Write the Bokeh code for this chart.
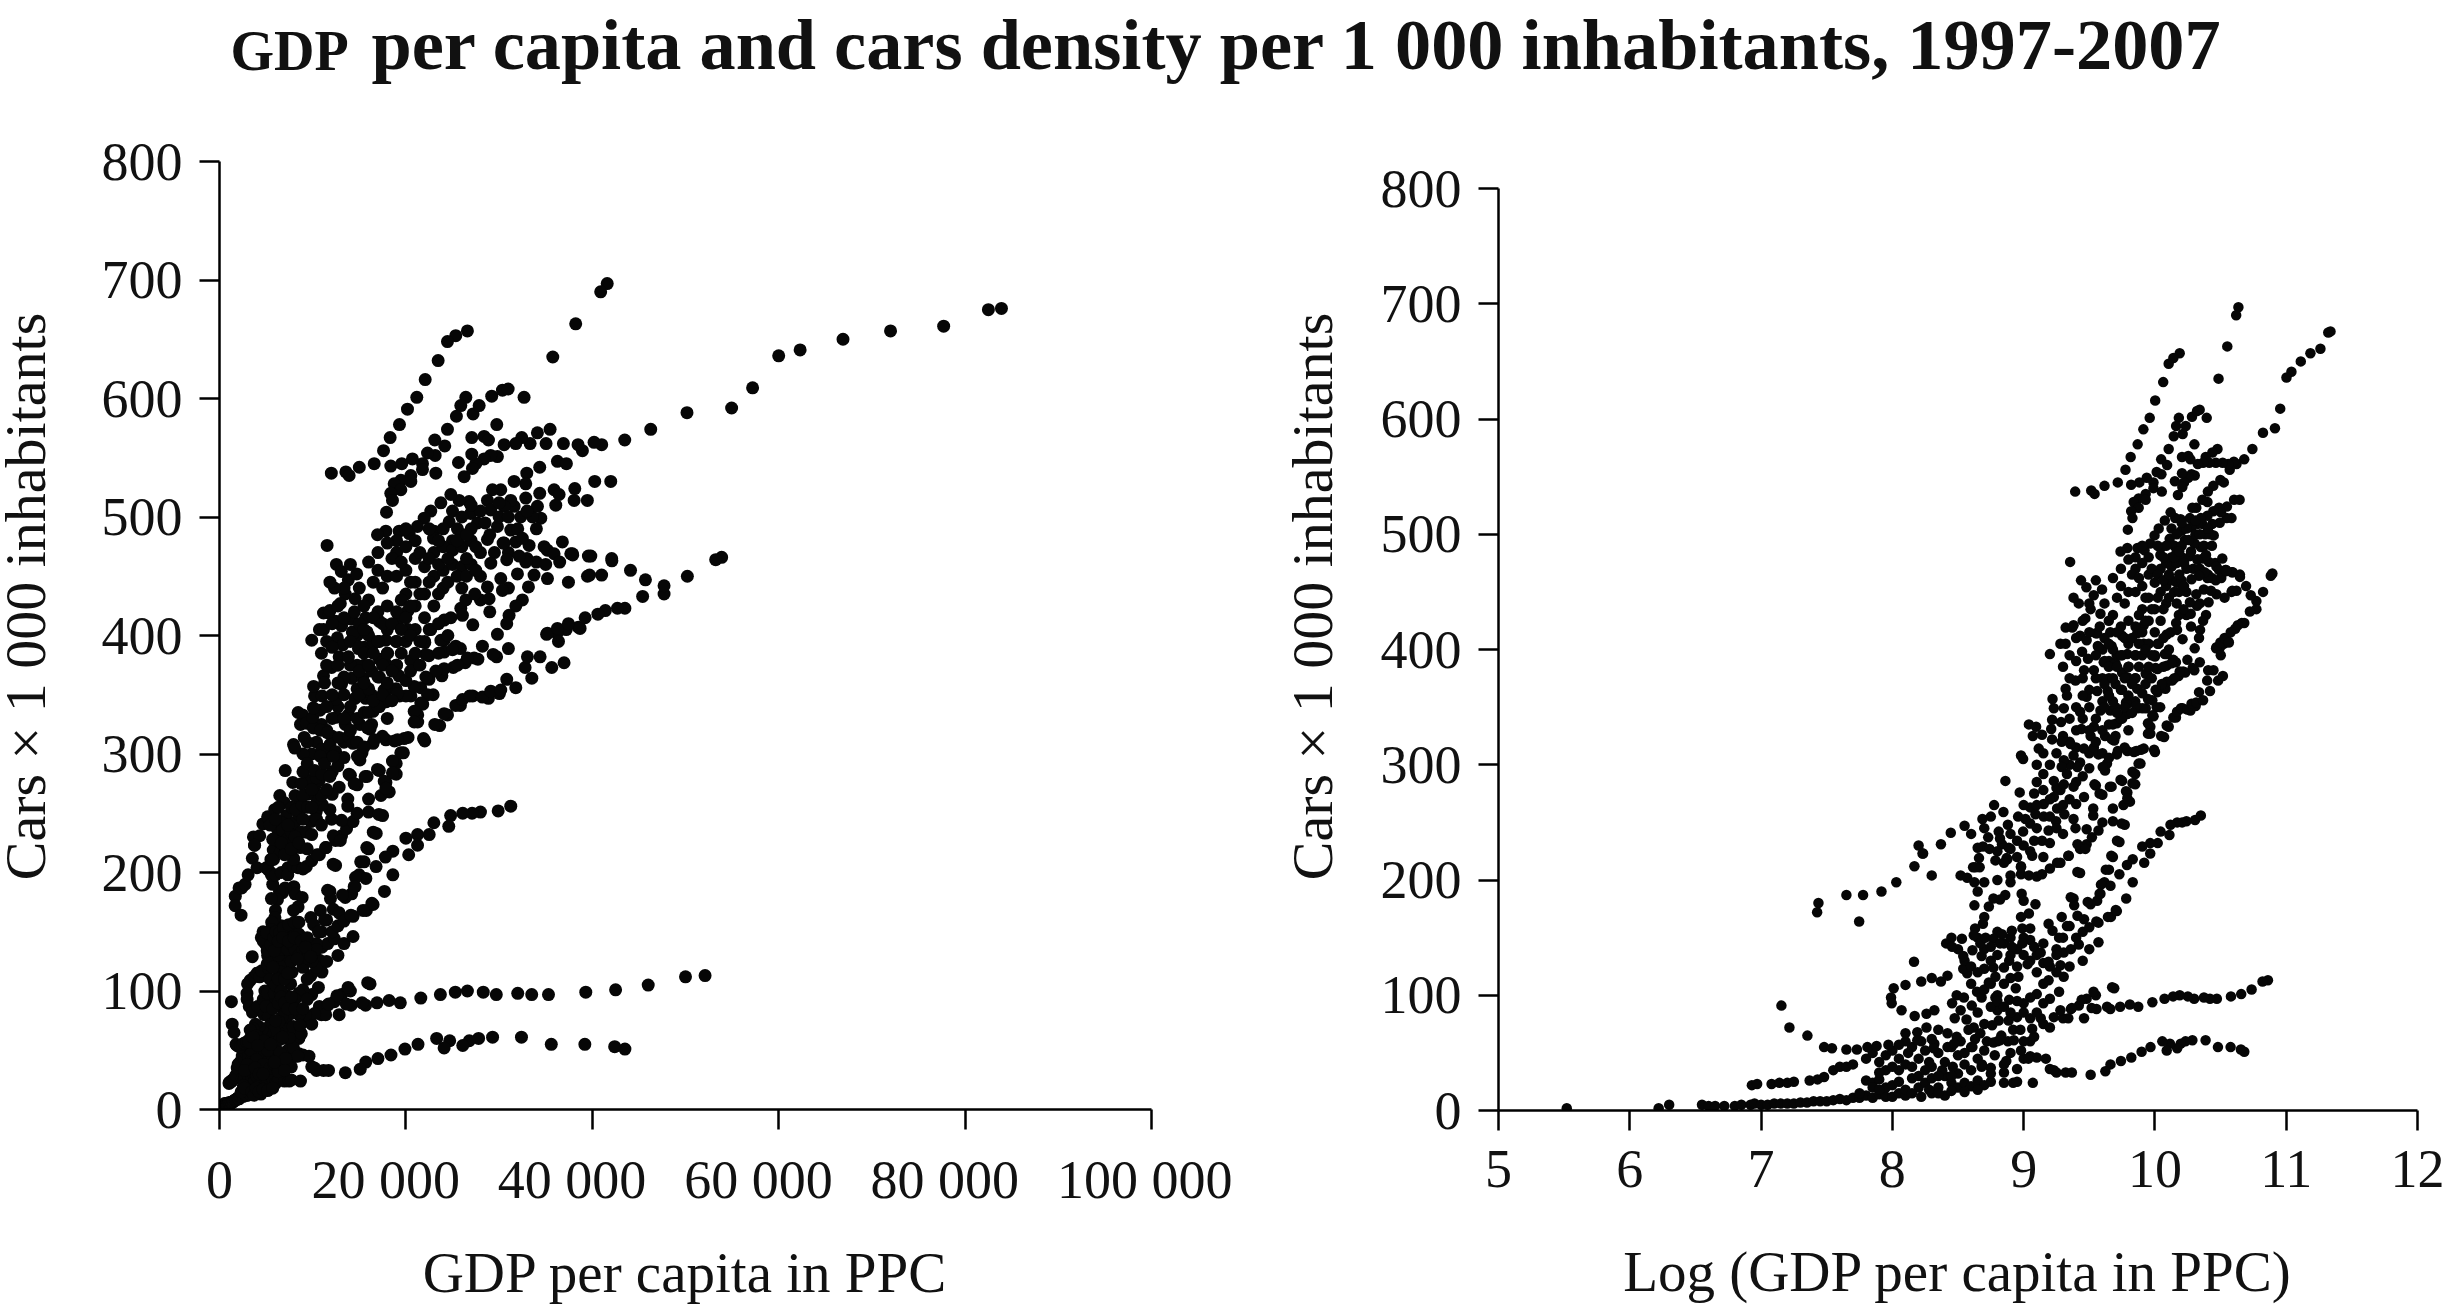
import numpy as np
from bokeh.embed import file_html
from bokeh.resources import INLINE
from bokeh.models import FixedTicker, Label, Range1d
from bokeh.plotting import figure

TITLE_SMALL = "GDP"
TITLE_MAIN = "per capita and cars density per 1 000 inhabitants, 1997-2007"
YLABEL = "Cars × 1 000 inhabitants"
XLABEL_LEFT = "GDP per capita in PPC"
XLABEL_RIGHT = "Log (GDP per capita in PPC)"
Y_TICKS = [0, 100, 200, 300, 400, 500, 600, 700, 800]
X_TICKS_LEFT = [0, 20000, 40000, 60000, 80000, 100000]
# The reference sets these labels slightly left of their ticks; trailing no-break spaces reproduce that.
X_TICK_LABELS_LEFT = ["0", "20 000\u00a0\u00a0\u00a0", "40 000\u00a0\u00a0\u00a0", "60 000\u00a0\u00a0\u00a0",
                      "80 000\u00a0\u00a0\u00a0", "100 000\u00a0"]
X_TICKS_RIGHT = [5, 6, 7, 8, 9, 10, 11, 12]

# --- (log GDP, cars) ---
log_floor = [(5.52,2),(6.22,2),(6.30,5),(6.55,5),(6.60,4),(6.65,4),(6.72,4),(6.80,4),(6.85,5),(6.92,5),(6.95,6),(7.00,5),
 (7.05,5),(7.10,6),(7.15,6),(7.20,6),(7.25,6),(7.30,7),(7.35,7),(7.40,8),(7.45,8),(7.50,8),(7.55,9),(7.60,10),(7.65,9),
 (7.70,11),(7.75,11),(7.80,13),(7.85,11),(7.90,14),(7.95,12),(8.00,12),(8.05,15),(8.10,13)]
log_band_25 = [(6.93,22),(6.97,23),(7.08,23),(7.14,24),(7.20,24),(7.25,25),(7.37,26),(7.43,27),(7.48,29),(7.55,35),(7.60,38),
 (7.65,38),(7.70,40),(7.80,26),(7.85,24),(7.90,27),(7.95,20),(8.00,22),(8.05,25),(8.10,18),(8.15,28),(8.20,20),(8.20,30),
 (8.25,24),(8.30,15),(8.30,28),(8.35,20),(8.40,13),(8.40,30),(8.45,24),(8.50,20),(8.50,32),(8.55,24),(8.60,21),(8.65,26),
 (8.70,22),(8.75,25),(8.85,24),(8.92,24),(8.95,25),(9.07,24),(7.75,15),(7.85,20),(7.90,18)]
log_band_50 = [(7.80,45),(7.85,50),(7.90,42),(7.95,48),(8.00,52),(8.05,45),(8.10,40),(8.15,55),(8.20,45),(8.25,52),(8.30,38),
 (8.35,50),(8.40,42),(8.45,55),(8.50,48),(8.55,40),(8.60,55),(8.65,45),(8.70,52),(8.75,37),(8.80,60),(8.85,40),(8.90,50),
 (8.95,36),(9.00,45),(9.05,47),(9.10,46),(9.20,36),(9.25,33),(9.32,33),(9.05,60),(9.00,60),(9.15,75),(9.20,72),(9.30,80)]
log_fill_low = [(8.05,35),(8.12,50),(8.15,38),(8.22,60),(8.28,42),(8.32,58),(8.38,35),(8.42,55),(8.46,38),(8.52,60),(8.55,50),
 (8.60,35),(8.63,62),(8.68,38),(8.72,60),(8.78,48),(8.83,65),(8.88,60),(8.92,70),(8.98,52),(8.15,15),(8.22,12),(8.28,18),
 (8.35,15),(8.45,17),(8.55,16),(8.65,18),(8.75,32),(8.85,33),(8.10,60),(7.95,35),(8.00,38),(7.90,33),(8.25,35),(8.35,30),(8.45,30)]
log_band_100 = [(7.155,91),(7.216,72),(7.353,65),(7.48,55),(7.54,54),(7.65,53),(7.73,53),(7.81,55),(7.88,56),(7.97,57),(8.05,57),
 (8.165,129),(8.10,109),(8.01,106),(8.22,112),(8.30,115),(8.37,112),(8.42,117),(7.99,98),(7.995,93),(8.07,87),(8.17,82),
 (8.26,84),(8.32,87),(8.475,80),(8.565,79),(8.645,103),(8.605,91),(8.49,100),(8.455,93),(8.545,98),(8.52,87),(8.68,98),
 (8.57,119),(8.54,123),(8.70,123),(8.77,124),(8.85,124),(8.89,130),(8.96,116),(8.94,106),(8.89,96),(8.785,116),(8.735,111),
 (8.785,98),(8.80,87),(9.305,137),(9.36,140),(9.42,144),(9.50,140),(9.57,146),(9.28,126),(9.305,116),(9.19,113),(9.27,103),
 (9.20,97),(9.10,101),(9.05,98),(9.00,93),(9.15,93),(9.28,87),(9.36,88),(9.42,91),(9.48,97),(9.55,100),(9.69,106),(9.555,88),
 (9.66,88),(9.46,80),(9.34,80),(9.23,81),(9.13,80),(9.05,80),(8.95,81),(8.885,78),(8.81,78),(8.76,74),(8.925,61),(8.975,70),
 (9.08,64),(9.065,71),(8.62,72),(8.58,70),(8.67,67),(8.49,64),(8.42,67),(8.35,70),(8.26,72),(8.19,68),(8.10,67),(8.30,62),
 (8.47,58),(8.19,61),(8.315,54),(8.77,59),(8.82,61),(8.61,55)]
log_fill_130 = [(8.45,150),(8.50,140),(8.55,130),(8.60,125),(8.65,150),(8.70,140),(8.75,130),(8.80,135),(8.80,155),(8.85,145),
 (8.90,135),(8.90,150),(8.95,125),(8.95,140),(9.00,135),(9.00,150),(9.05,130),(9.05,148),(9.10,120),(9.10,135),(8.60,110),
 (8.65,120),(8.70,105),(8.75,110),(8.80,100),(8.85,110),(8.90,115),(8.65,85),(8.70,75),(8.75,90),(8.80,95),(8.85,90),(8.90,85),
 (8.95,95),(9.00,85),(9.10,85),(9.15,110),(9.25,120),(9.30,150),(9.35,160),(9.40,150),(9.45,155),(9.25,140),(9.35,125),
 (9.20,125),(9.25,135),(9.15,128),(9.45,130)]
log_band_150 = [(7.437,180),(7.427,172),(7.65,187),(7.777,187),(7.747,164),(7.917,190),(8.03,198),(8.41,145),(8.455,142),
 (8.985,188),(9.0,182),(9.09,179),(9.04,171),(8.98,168),(9.615,198),(9.585,188),(9.56,182),(9.51,179),(9.38,184),(9.385,178),
 (9.29,168),(9.33,160),(9.41,169),(9.46,166),(9.50,159),(9.57,163),(9.665,168),(9.71,173),(8.86,187),(8.82,183),(8.77,184),
 (8.735,177),(8.70,168),(8.69,162),(8.63,158),(8.62,152),(8.53,149),(8.54,134),(8.61,139),(8.67,145),(8.71,150),(8.77,149),
 (8.835,153),(8.91,156),(8.99,158),(9.05,158),(8.68,134),(8.75,142),(8.82,145),(8.91,142),(8.99,145),(9.08,142),(9.15,145),
 (9.19,162),(9.22,156),(9.27,150),(9.13,137),(9.03,127),(9.19,129),(8.65,190),(8.625,178)]
log_band_220 = [(8.168,212),(8.30,204),(8.23,223),(8.20,230),(8.37,231),(8.52,204),(8.57,202),(8.625,198),(8.70,198),(8.80,200),
 (8.615,211),(8.665,211),(8.66,219),(8.69,229),(8.74,227),(8.785,217),(8.876,218),(8.90,227),(8.835,231),(8.98,212),(8.90,204),
 (8.90,198),(8.98,205),(9.04,204),(9.10,203),(9.14,205),(9.20,210),(9.28,215),(9.34,221),(9.43,227),(9.48,231),(9.43,206),
 (9.65,209),(9.68,220),(8.234,223),(8.445,241),(8.55,247),(8.686,253),(8.775,265),(8.846,259),(8.861,286),(8.97,276),(8.88,248),
 (8.81,242),(8.73,237),(8.82,236),(8.887,228),(8.95,234),(8.996,242),(9.05,249),(8.958,255),(9.014,253),(9.05,263),(9.09,257),
 (9.153,255),(9.19,243),(9.14,234),(9.08,234),(9.065,221),(8.87,219),(8.633,211),(8.98,211),(9.255,215),(9.344,221),(9.41,231),
 (9.47,227),(9.52,237),(9.57,243),(9.48,244),(9.395,245),(9.38,253),(9.247,251),(9.31,257),(9.255,262),(9.153,266),(9.23,272),
 (9.28,278),(9.15,278),(9.08,275),(9.46,272),(9.40,266),(9.53,262),(9.53,256),(9.60,250),(9.68,251),(9.77,248),(9.73,233),(9.68,262)]
log_fill_240 = [(8.60,240),(8.65,228),(8.70,245),(8.75,255),(8.80,225),(8.85,215),(8.90,240),(8.95,220),(9.00,230),(9.00,265),
 (9.05,225),(9.10,245),(9.10,265),(9.15,220),(9.20,232),(9.20,255),(9.25,245),(9.25,280),(9.30,265),(9.30,240),(9.35,270),
 (9.35,300),(9.40,285),(9.45,290),(9.50,310),(9.20,300),(9.25,310),(9.30,325),(9.15,310),(9.10,300),(9.10,285),(9.20,270),
 (9.35,320),(9.40,315),(9.45,340)]
log_band_300 = [(9.15,292),(9.23,286),(9.306,283),(9.38,281),(9.76,265),(9.81,268),(9.79,276),(9.60,274),(9.55,282),(9.67,281),
 (9.75,286),(9.85,283),(9.85,292),(9.89,301),(9.62,295),(9.635,301),(9.71,309),(9.79,312),(9.915,314),(10.0,311),(9.84,311),
 (9.306,304),(9.29,298),(9.38,308),(9.43,302),(9.33,292),(9.50,297),(9.41,298),(9.115,314),(8.98,308),(8.996,305),(9.04,335),
 (9.095,333),(9.07,325),(9.14,326),(9.217,322),(9.29,320),(9.357,318),(9.21,331),(9.285,337),(9.217,339),(9.23,349),(9.306,349),
 (9.22,357),(9.32,366),(9.33,360),(9.395,373),(9.46,382),(9.43,346),(9.48,359),(9.56,364),(9.44,331),(9.535,333),(9.51,325),
 (9.46,314),(9.535,315),(9.57,309),(9.62,325),(9.69,321),(9.71,336),(9.585,347),(9.66,347),(9.64,364),(9.79,353),(9.79,344),
 (9.87,349),(9.93,349),(9.98,356),(10.04,350),(9.99,342),(9.965,333),(9.965,327)]
log_fill_350 = [(9.50,350),(9.55,340),(9.60,330),(9.65,335),(9.60,355),(9.65,360),(9.70,350),(9.75,340),(9.75,365),(9.70,370),
 (9.75,380),(9.65,375),(9.60,375),(9.55,375),(9.50,365),(9.80,385),(9.85,375),(9.85,395),(9.75,395),(9.60,400),(9.65,390),
 (9.85,355),(9.60,310),(9.70,325),(9.45,360),(9.40,350),(9.35,340),(9.40,330),(9.50,330),(9.55,320)]
log_band_390 = [(10.07,324),(10.105,333),(10.16,341),(10.21,349),(10.27,347),(10.31,351),(10.02,363),(10.08,366),(10.13,373),
 (10.18,377),(10.23,380),(10.30,382),(9.94,379),(10.02,383),(10.09,386),(10.16,389),(9.865,366),(9.79,376),(9.70,388),(9.61,389),
 (9.535,382),(9.79,396),(9.71,395),(10.0,394),(10.09,396),(9.445,398),(9.49,392),(9.565,403),(9.67,403),(9.43,412),(9.48,408),
 (9.55,414),(9.20,396),(9.28,405),(9.32,405),(9.32,419),(9.37,419),(9.66,415),(9.75,412),(9.865,414),(9.915,405),(9.915,421),
 (9.354,476),(9.437,460),(9.478,454),(9.38,421),(9.51,435),(9.47,427),(9.534,447),(9.597,452),(9.585,431),(9.56,414),(9.57,402)]
log_fill_420 = [(9.30,385),(9.35,395),(9.40,410),(9.45,425),(9.50,440),(9.55,460),(9.35,375),(9.40,390),(9.45,375),(9.50,415),
 (9.55,395),(9.58,420),(9.42,440),(9.38,445)]

# --- (GDP, cars) ---
gdp_top = [(26600,657),(25350,653),(24460,648),(23460,632),(22070,616),(21170,601),(20170,591),(19310,578),(18310,567),
 (17600,556),(16600,545),(15000,542),(13560,538),(13910,535),(12000,537),(41600,697),(40900,690),(38220,663),(35760,635)]
gdp_far = [(83900,676),(82500,675),(77700,661),(72000,657),(66900,650),(62300,641),(60000,636),(57200,609),(54950,592),
 (50160,588),(46270,574),(43480,565),(41010,561),(40190,563),(38940,556),(38470,561),(36900,562),(35040,562),(35470,574),
 (34110,571),(33330,562),(32430,567),(31790,562),(30540,561),(29820,551),(29100,552),(28390,549),(27500,545),(27140,541),
 (26250,534),(27070,553),(25640,546),(29750,578),(27070,567),(28390,568),(28860,565)]
gdp_600 = [(26430,601),(25890,594),(27210,587),(27860,594),(25420,585),(24460,574),(29210,602),(30360,607),(30970,608),(32680,601),
 (23100,565),(24170,560),(23210,537),(23140,552),(22320,554),(21780,545),(20700,549),(19560,545),(18380,543),(21780,540),
 (20530,535),(19460,531),(20530,530),(18740,528),(19460,523),(18380,520),(18560,514),(17920,504)]
gdp_520 = [(34360,542),(32970,537),(32860,528),(31610,530),(36260,547),(37220,545),(40260,530),(41980,530),(38120,524),(39470,514),
 (38050,514),(35900,523),(36440,519),(36080,510),(34360,520),(34470,499),(33580,500),(34110,509),(32860,516),(31610,509),
 (31250,514),(30540,509),(30180,523),(29290,523),(28750,514),(29110,506),(26780,513),(25710,514),(24820,519),(23750,512),
 (22670,505),(21960,499),(21240,492),(20350,486),(19280,488),(17850,488),(16950,485),(23030,488),(22960,482),(24640,496),
 (25530,490),(26960,503),(27680,495),(32320,500),(31250,489),(29820,492),(28750,481),(30540,478),(31790,479),(33220,476),
 (34830,475),(35180,472),(36790,479),(37690,469),(39840,467),(42080,465),(53880,466),(53240,464),(35900,469)]
gdp_strip = [(24000,490),(25000,505),(26000,500),(27000,490),(28000,505),(28500,495),(29000,485),(30000,500),(31000,500),(32000,490),
 (33000,505),(27000,510),(30000,512),(26000,485),(25000,480),(29500,470),(31000,470),(32500,482),(34000,490),(20000,490),
 (21000,480),(22500,490),(19000,480),(33000,465),(34000,462),(35000,460),(36500,462),(31000,440),(32500,430),(28000,430),(29000,420)]
gdp_450 = [(39580,467),(39480,450),(37440,445),(37870,469),(30430,478),(32860,462),(32150,467),(30820,464),(31970,452),(35190,448),
 (33750,451),(33150,441),(30360,438),(28930,431),(28750,441),(30180,448),(29110,461),(31790,425),(31070,417),(30820,410),
 (29820,401),(31000,389),(29360,384),(28210,391),(27320,381),(26600,381),(25350,391),(25530,375),(27180,409),(25890,423),
 (26430,430),(27390,435),(24100,413),(24820,415),(26070,417),(23750,396),(22670,405),(22140,384),(20530,379),(25000,388),
 (47700,435),(47700,442),(45700,447),(44100,455),(42100,463),(41000,451),(39700,451),(37900,468),(50200,450),(45400,433),
 (43500,423),(42700,423),(41400,421),(40600,418),(38500,407),(37200,405),(36200,402),(35100,401)]
gdp_360 = [(24100,372),(23210,370),(22140,365),(20890,357),(22320,350),(21600,343),(20890,336),(20890,327),(20000,349),(19100,351),
 (17670,344),(17670,354),(23100,325),(24100,334),(25350,341),(26070,346),(26860,349),(28210,348),(29110,353),(30180,354),
 (30820,363),(31790,356),(33510,364),(32790,373),(33040,382),(34400,382),(35650,373),(36970,377),(35190,402),(36370,395),
 (36260,406),(37440,410),(38690,406),(39230,415)]
gdp_blob = [(15000,410),(15000,440),(15000,390),(15000,370),(15000,350),(16000,462),(16000,430),(16000,400),(16000,375),(16000,355),
 (16000,335),(17000,470),(17000,455),(17000,420),(17000,395),(17000,365),(17000,340),(18000,478),(18000,450),(18000,425),
 (18000,405),(18000,385),(18000,360),(18000,330),(19000,470),(19000,450),(19000,420),(19000,395),(19000,375),(20000,475),
 (20000,455),(20000,435),(20000,415),(20000,395),(20000,362),(21000,465),(21000,445),(21000,425),(21000,405),(21000,385),
 (22000,458),(22000,435),(22000,415),(22000,395),(23000,470),(23000,450),(23000,425),(24000,475),(24000,455),(24000,440),
 (25000,460),(25000,472),(26000,475),(26000,458),(26000,440),(27000,480),(27000,460),(28000,470),(28000,450)]
gdp_blob_2 = [(15500,425),(15500,405),(15500,385),(15500,360),(16500,445),(16500,415),(16500,385),(16500,345),(17500,440),(17500,410),
 (17500,375),(17500,350),(18500,465),(18500,410),(18500,370),(18500,345),(19500,462),(19500,430),(19500,405),(19500,385),
 (20500,445),(20500,425),(20500,400),(20500,370),(21500,470),(21500,435),(21500,395),(21500,375),(22500,465),(22500,445),
 (22500,405),(23500,480),(23500,460),(23500,435),(23500,410),(23500,385),(24500,465),(24500,445),(24500,400),(25500,480),
 (25500,450),(26500,485),(26500,465),(26500,450),(27500,475),(27500,455)]
gdp_300 = [(15880,322),(17490,315),(19810,313),(21890,313),(19100,312),(16600,312),(14800,298),(15520,306),(19450,301),(18560,294),
 (18560,284),(16950,287),(15630,281),(13900,283),(14450,275),(17670,277),(17850,271)]
gdp_250 = [(31250,256),(29900,252),(28000,251),(27100,250),(26100,250),(24800,248),(24600,239),(23000,242),(22500,232),(21250,232),
 (21250,223),(20000,229),(20300,215),(18600,218),(17800,213),(16800,205),(15700,195),(14600,196),(14450,188),(18600,198),
 (17700,184),(16350,174),(15400,168),(11600,185),(13200,181),(14100,164),(17100,249),(16500,234),(15800,221),(15150,209),(12200,207)]
gdp_100 = [(52100,113),(50000,112),(46000,105),(42500,101),(39300,99),(35300,97),(33500,97),(32000,98),(29700,97),(28300,99),
 (26600,100),(25300,99),(23700,97),(21600,94),(19400,90),(18200,92),(16900,90),(15300,90),(13600,89),(15900,107),(13800,103),
 (12600,96),(11700,89)]
gdp_55 = [(43500,51),(42400,53),(39200,55),(35600,55),(32400,61),(29300,61),(27800,60),(26800,58),(26100,54),(24700,58),(24100,52),
 (23300,60),(21300,55),(19900,51),(18400,46),(17000,43),(15700,40),(15100,34),(13500,31),(11700,33),(10200,35),(9600,45),
 (8400,45),(7100,43),(5900,40)]

log_groups = [log_floor, log_band_25, log_band_50, log_fill_low, log_band_100, log_fill_130, log_band_150, log_band_220,
              log_fill_240, log_band_300, log_fill_350, log_band_390, log_fill_420]
gdp_groups = [gdp_top, gdp_far, gdp_600, gdp_520, gdp_strip, gdp_450, gdp_360, gdp_blob, gdp_blob_2, gdp_300, gdp_250, gdp_100, gdp_55]

log_pts = np.array([pt for g in log_groups for pt in g], dtype=float)
gdp_pts = np.array([pt for g in gdp_groups for pt in g], dtype=float)
gdp = np.concatenate([np.exp(log_pts[:, 0]), gdp_pts[:, 0]])
cars = np.concatenate([log_pts[:, 1], gdp_pts[:, 1]])
log_gdp = np.log(gdp)

FONT = "Liberation Serif"
TICK_PT = "54px"
XLABEL_PT = "57px"
YLABEL_PT = "58px"
INK = "#111111"


def panel(x, xr, xticks, overrides, xlabel, page_x, w, left, top, right, size, label_standoff):
    p = figure(width=w, height=1306, output_backend="svg", toolbar_location=None,
               x_range=Range1d(*xr), y_range=Range1d(0, 800),
               styles={"position": "absolute", "left": f"{page_x}px", "top": "0px"})
    p.min_border_left, p.min_border_right = left, right
    p.min_border_top, p.min_border_bottom = top, 196
    p.outline_line_color = None
    p.background_fill_color = None
    p.border_fill_color = None
    p.grid.visible = False
    p.scatter(x, cars, size=size, fill_color="#060606", line_color=None)
    for ax in (p.xaxis[0], p.yaxis[0]):
        ax.minor_tick_line_color = None
        ax.axis_line_color = "#000000"
        ax.axis_line_width = 2.5
        ax.major_tick_line_color = "#000000"
        ax.major_tick_line_width = 2.5
        ax.major_tick_in = 0
        ax.major_tick_out = 20
        ax.major_label_text_font = FONT
        ax.major_label_text_font_size = TICK_PT
        ax.major_label_text_color = INK
    p.xaxis[0].ticker = FixedTicker(ticks=xticks)
    p.yaxis[0].ticker = FixedTicker(ticks=Y_TICKS)
    p.xaxis[0].major_label_overrides = overrides
    p.xaxis[0].major_label_standoff = 20
    p.yaxis[0].major_label_standoff = 17
    p.xaxis[0].axis_label = xlabel
    p.xaxis[0].axis_label_text_font = FONT
    p.xaxis[0].axis_label_text_font_size = XLABEL_PT
    p.xaxis[0].axis_label_text_font_style = "normal"
    p.xaxis[0].axis_label_text_color = INK
    p.xaxis[0].axis_label_standoff = label_standoff
    return p


PAGE_W = 2448
SPLIT = 1290
p1 = panel(gdp, (0, 100000), X_TICKS_LEFT, dict(zip(X_TICKS_LEFT, X_TICK_LABELS_LEFT)), XLABEL_LEFT,
           0, SPLIT, 219, 161, SPLIT - 219 - 932, 13, 28)
p2 = panel(log_gdp, (5, 12), X_TICKS_RIGHT, {}, XLABEL_RIGHT,
           SPLIT, PAGE_W - SPLIT, 208, 188, PAGE_W - SPLIT - 208 - 919, 10.5, 50)

# Transparent page-wide layer for the title and the two off-centre y labels.
layer = figure(width=PAGE_W, height=1306, output_backend="svg", toolbar_location=None,
               x_range=Range1d(0, 1), y_range=Range1d(0, 1),
               min_border_left=0, min_border_right=0, min_border_top=0, min_border_bottom=0,
               styles={"position": "absolute", "left": "0px", "top": "0px", "pointer-events": "none"})
layer.outline_line_color = None
layer.background_fill_color = None
layer.border_fill_color = None
layer.axis.visible = False
layer.grid.visible = False
layer.add_layout(Label(x=230, y=1256, x_units="screen", y_units="screen", text=TITLE_SMALL, text_font=FONT,
                       text_font_size="56px", text_font_style="bold", text_color=INK, text_baseline="alphabetic"))
layer.add_layout(Label(x=371, y=1262, x_units="screen", y_units="screen", text=TITLE_MAIN, text_font=FONT,
                       text_font_size="72.3px", text_font_style="bold", text_color=INK, text_baseline="alphabetic"))
for sx in (25, 1312):
    layer.add_layout(Label(x=sx, y=710, x_units="screen", y_units="screen", text=YLABEL, angle=np.pi / 2,
                           text_align="center", text_baseline="alphabetic", text_font=FONT,
                           text_font_size=YLABEL_PT, text_color=INK))

open("out.html", "w").write(file_html([p1, p2, layer], INLINE))
